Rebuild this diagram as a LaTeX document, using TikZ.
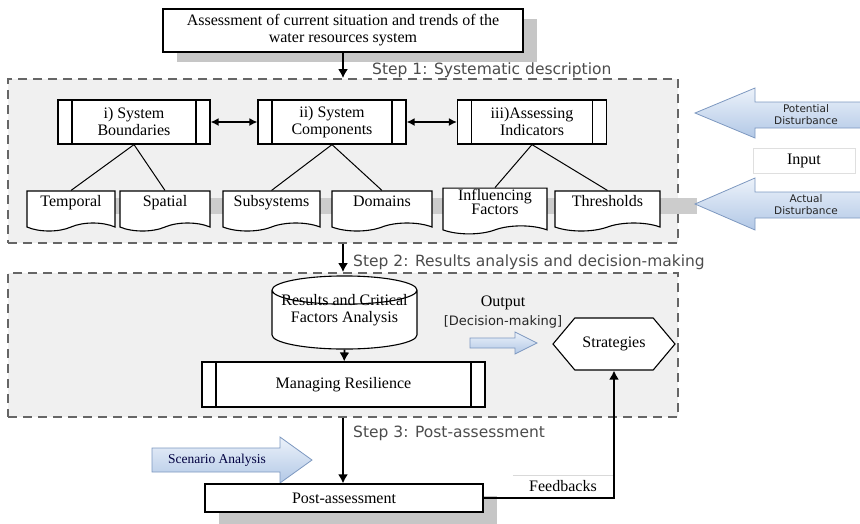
\documentclass[tikz,border=0pt]{standalone}
\usepackage{fontspec}
\setmainfont{Liberation Serif}
\setsansfont{DejaVu Sans}
\usetikzlibrary{shapes.geometric, shapes.symbols, arrows.meta, positioning, shadows}

\definecolor{arrowtop}{RGB}{236,242,250}
\definecolor{arrowbot}{RGB}{178,200,230}
\definecolor{arrowline}{RGB}{125,152,192}

\begin{document}
\begin{tikzpicture}[
    x=1pt, y=-1pt,
    box/.style={rectangle, draw, line width=1.2pt, fill=white, align=center, font=\fontsize{16}{17}\selectfont, inner sep=2pt},
    procbox/.style={box, path picture={
        \draw[line width=1.2pt] ([xshift=14pt]path picture bounding box.south west) -- ([xshift=14pt]path picture bounding box.north west);
        \draw[line width=1.2pt] ([xshift=-14pt]path picture bounding box.south east) -- ([xshift=-14pt]path picture bounding box.north east);}},
    doc/.style={tape, tape bend top=none, tape bend height=8pt, draw, line width=1.1pt, fill=white, minimum height=40pt, align=center, font=\fontsize{16}{14.5}\selectfont, inner sep=1pt, text depth=12pt},
    stepframe/.style={rectangle, draw=black!60, fill=gray!12, dash pattern=on 9pt off 6pt, line width=1.8pt},
    steplabel/.style={font=\sffamily\fontsize{15.5}{17}\selectfont, text=black!70, anchor=west, inner sep=0pt},
    arrow/.style={-{Latex[length=9pt, width=10pt]}, line width=1.8pt},
    darrow/.style={{Latex[length=8pt, width=8pt]}-{Latex[length=8pt, width=8pt]}, line width=1.5pt},
    link/.style={line width=1pt},
    bluearrow/.style={top color=arrowtop, bottom color=arrowbot, draw=arrowline, line width=0.8pt},
    note/.style={font=\sffamily\fontsize{10.5}{12}\selectfont, align=center, text=black!85},
]
    \useasboundingbox (0,0) rectangle (860,523);

    % Step frames
    \node[stepframe, minimum width=670pt, minimum height=164pt] (frame1) at (343,161) {};
    \node[stepframe, minimum width=670pt, minimum height=144pt] (frame2) at (343,345) {};

    % shadow band under the documents
    \fill[gray!40] (60,198) rectangle (697,214);

    % Starting point
    \node[box, minimum width=360pt, minimum height=43pt, drop shadow={shadow xshift=14pt, shadow yshift=-10pt, fill=gray!45, opacity=1}] (assess) at (343,30.5) {Assessment of current situation and trends of the\\water resources system};
    \node[steplabel] (step1) at (372,70) {Step 1: Systematic description};

    % Step 1: components
    \node[procbox, minimum width=152pt, minimum height=44pt] (bound) at (134,122) {i) System\\Boundaries};
    \node[procbox, minimum width=148pt, minimum height=44pt] (comp) at (332,122) {ii) System\\Components};
    \node[procbox, minimum width=149pt, minimum height=44pt] (indic) at (532,122) {iii)Assessing\\Indicators};

    % Step 1: documents
    \node[doc, minimum width=88pt] (temporal) at (71,207) {Temporal};
    \node[doc, minimum width=90pt] (spatial) at (165,207) {Spatial};
    \node[doc, minimum width=97pt] (subsys) at (271.5,207) {Subsystems};
    \node[doc, minimum width=100pt] (domains) at (382,207) {Domains};
    \node[doc, minimum width=104pt, text depth=10pt] (influ) at (495,207) {Influencing\\Factors};
    \node[doc, minimum width=105pt] (thresh) at (607.5,207) {Thresholds};

    % Disturbances
    \draw[bluearrow] (864,102) -- (755,102) -- (755,88) -- (695,113) -- (755,138) -- (755,128) -- (864,128) -- cycle;
    \node[note] (potential) at (806,115) {Potential\\Disturbance};
    \node[draw=gray!25, line width=0.6pt, minimum width=102pt, minimum height=25pt, font=\fontsize{16}{17}\selectfont] (input) at (804,160.5) {Input};
    \draw[bluearrow] (864,192) -- (755,192) -- (755,178) -- (695,204) -- (755,230) -- (755,218) -- (864,218) -- cycle;
    \node[note] (actual) at (806,205) {Actual\\Disturbance};

    % Step 2
    \node[steplabel] (step2) at (353,262) {Step 2: Results analysis and decision-making};
    \node[cylinder, shape border rotate=90, aspect=0.22, draw, line width=1.1pt, fill=white, minimum width=145pt, minimum height=71pt, inner sep=1pt, align=center, font=\fontsize{16}{16}\selectfont, text opacity=0, anchor=shape center] (results) at (344.5,312.5) {Results and Critical\\Factors Analysis};
    \node[align=center, font=\fontsize{16}{17}\selectfont, inner sep=0pt] (resultstext) at (344.5,310) {Results and Critical\\Factors Analysis};
    \node[procbox, minimum width=283pt, minimum height=45pt] (manage) at (343.5,384.5) {Managing Resilience};
    \node[font=\fontsize{16}{17}\selectfont] (outlbl) at (503,303) {Output};
    \node[note, font=\sffamily\fontsize{13}{14}\selectfont] (decision) at (503,322) {[Decision-making]};
    \draw[bluearrow] (470,338) -- (515,338) -- (515,332) -- (537,343) -- (515,354) -- (515,348) -- (470,348) -- cycle;
    \node[signal, signal to=west and east, signal pointer angle=100, draw, line width=1.1pt, fill=white, minimum width=122pt, minimum height=52pt, font=\fontsize{16}{17}\selectfont] (strat) at (614,344) {Strategies};

    % Step 3
    \node[steplabel] (step3) at (353,433) {Step 3: Post-assessment};
    \draw[bluearrow] (152,448) -- (280,448) -- (280,437) -- (312,460) -- (280,483) -- (280,472) -- (152,472) -- cycle;
    \node[font=\fontsize{13.5}{14}\selectfont, text=blue!25!black] (scenario) at (217,460) {Scenario Analysis};
    \node[box, minimum width=278pt, minimum height=28pt, drop shadow={shadow xshift=14pt, shadow yshift=-12pt, fill=gray!45, opacity=1}] (post) at (344,498) {Post-assessment};
    \node[minimum width=100pt, minimum height=22pt, font=\fontsize{16}{17}\selectfont] (feed) at (563,486) {Feedbacks};
    \draw[gray!30, line width=0.6pt] (feed.north west) -- (feed.north east);

    % Connections
    \draw[arrow] (assess.south) -- (assess.south |- frame1.north);
    \draw[arrow] (frame1.south) -- (frame2.north);
    \draw[arrow] (results.bottom) -- (manage);
    \draw[arrow] (frame2.south) -- (frame2.south |- post.north);
    \draw[arrow] (post.east) -| (strat.south);
    \draw[darrow] (bound) -- (comp);
    \draw[darrow] (comp) -- (indic);
    \draw[link] (bound.south) -- (temporal.north);
    \draw[link] (bound.south) -- (spatial.north);
    \draw[link] (comp.south) -- (subsys.north);
    \draw[link] (comp.south) -- (domains.north);
    \draw[link] (indic.south) -- (influ.north);
    \draw[link] (indic.south) -- (thresh.north);
\end{tikzpicture}
\end{document}
